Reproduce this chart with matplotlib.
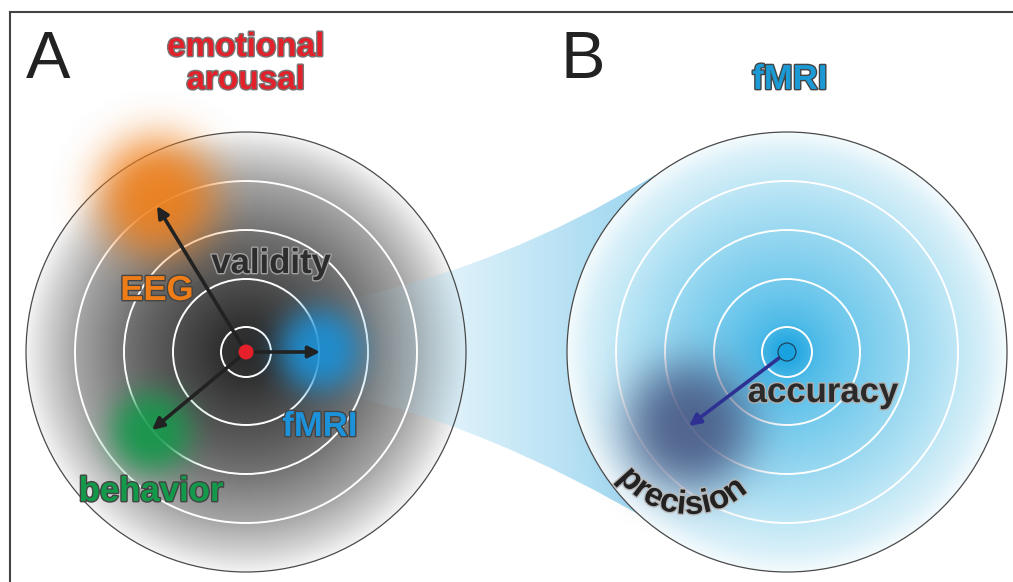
import numpy as np
import matplotlib
matplotlib.use("Agg")
import matplotlib.pyplot as plt
import matplotlib.patheffects as pe
from matplotlib.patches import Circle, PathPatch
from matplotlib.path import Path
from matplotlib.colors import to_rgb
from matplotlib.textpath import TextToPath
from matplotlib.font_manager import FontProperties

# ---- data (image pixel coordinates, y downwards) ----
panel_letters = ["A", "B"]
panel_letter_x = [26, 561]
target_centers = [(246, 352), (787, 352)]
target_radius = 220
ring_radii = [25, 73, 122, 171]

title_lines = ["emotional", "arousal"]
title_baselines = [56, 89]

method_names = ["EEG", "fMRI", "behavior"]
method_points = [(157, 206), (320, 352), (152, 430)]
method_blob_centers = [(157, 196), (320, 350), (151, 432)]
method_blob_sizes = [62, 43, 42]
method_colors = ["#ef7d17", "#1b92d9", "#12994a"]
method_label_pos = [(157, 300), (320, 436), (151, 501)]

measure_point = (689, 426)
measure_blob_size = 66
measure_color = "#44527e"

W, H = 1013, 582
FAM = ["Liberation Sans", "DejaVu Sans"]


def radial_image(cx, cy, R, knots_r, knots_hex):
    xs = np.arange(cx - R, cx + R) + 0.5
    ys = np.arange(cy - R, cy + R) + 0.5
    X, Y = np.meshgrid(xs, ys)
    r = np.hypot(X - cx, Y - cy)
    rgb = [to_rgb(c) for c in knots_hex]
    img = np.zeros(r.shape + (3,))
    for k in range(3):
        img[..., k] = np.interp(r, knots_r, [c[k] for c in rgb])
    return img, (cx - R, cx + R, cy + R, cy - R)


def blob_image(cx, cy, s, color, amax):
    R = int(s * 1.8)
    xs = np.arange(cx - R, cx + R) + 0.5
    ys = np.arange(cy - R, cy + R) + 0.5
    X, Y = np.meshgrid(xs, ys)
    d = np.hypot(X - cx, Y - cy)
    img = np.zeros(d.shape + (4,))
    img[..., :3] = to_rgb(color)
    img[..., 3] = amax * np.exp(-(d / s) ** 3)
    return img, (cx - R, cx + R, cy + R, cy - R)


fig = plt.figure(figsize=(W / 100, H / 100), dpi=100)
ax = fig.add_axes([0, 0, 1, 1])
ax.set_xlim(0, W)
ax.set_ylim(H, 0)
ax.axis("off")

# frame lines
ax.plot([10, 10], [H, 12], color="#444444", lw=1.5, zorder=0)
ax.plot([10, W], [12, 12], color="#444444", lw=1.5, zorder=0)

# panel A target (grey)
(lx, ly), (rx, ry) = target_centers
img, ext = radial_image(lx, ly, target_radius,
                        [0, 30, 60, 100, 122, 171, 200, 220],
                        ["#2a2a2a", "#333333", "#474747", "#626262",
                         "#747474", "#a6a6a6", "#d2d2d2", "#f4f4f4"])
im = ax.imshow(img, extent=ext, origin="upper", interpolation="bilinear", zorder=1)
im.set_clip_path(Circle((lx, ly), target_radius, transform=ax.transData))

# zoom cone
verts = [(328, 303), (500, 270), (655, 175), (800, 300), (800, 400),
         (662, 528), (480, 420), (328, 392), (328, 303)]
codes = [Path.MOVETO, Path.CURVE3, Path.CURVE3, Path.LINETO, Path.LINETO,
         Path.LINETO, Path.CURVE3, Path.CURVE3, Path.CLOSEPOLY]
cone = PathPatch(Path(verts, codes), transform=ax.transData, fc="none", ec="none")
cx0, cx1, cy0, cy1 = 300, 800, 150, 540
xs = np.arange(cx0, cx1) + 0.5
cimg = np.zeros((cy1 - cy0, cx1 - cx0, 4))
cimg[..., :3] = to_rgb("#9ad5ef")
cimg[..., 3] = np.clip((xs - 340) / 310, 0, 1)[None, :] ** 1.1
im = ax.imshow(cimg, extent=(cx0, cx1, cy1, cy0), origin="upper",
               interpolation="bilinear", zorder=2)
im.set_clip_path(cone)

# panel B target (blue)
img, ext = radial_image(rx, ry, target_radius,
                        [0, 12, 30, 60, 100, 150, 200, 220],
                        ["#1aa3df", "#2aaae2", "#4fbbe8", "#6cc7ec",
                         "#89d2ef", "#afe1f4", "#d9f0f9", "#f4fbfd"])
im = ax.imshow(img, extent=ext, origin="upper", interpolation="bilinear", zorder=3)
im.set_clip_path(Circle((rx, ry), target_radius, transform=ax.transData))

# rings and outlines
for (cx, cy) in target_centers:
    for r in ring_radii:
        ax.add_patch(Circle((cx, cy), r, fc="none", ec="white", lw=1.4, zorder=4))
    ax.add_patch(Circle((cx, cy), target_radius, fc="none", ec="#4a4a4a", lw=0.9, zorder=4))

# blobs
for (px, py), s, col in zip(method_blob_centers, method_blob_sizes, method_colors):
    img, ext = blob_image(px, py, s, col, 0.9)
    ax.imshow(img, extent=ext, origin="upper", interpolation="bilinear", zorder=5)
img, ext = blob_image(measure_point[0], measure_point[1], measure_blob_size, measure_color, 0.85)
ax.imshow(img, extent=ext, origin="upper", interpolation="bilinear", zorder=5)

# arrows
for p in method_points:
    ax.annotate("", xy=p, xytext=(lx, ly), zorder=6,
                arrowprops=dict(arrowstyle="-|>", color="#222222", lw=2.6,
                                mutation_scale=17, shrinkA=0, shrinkB=0))
ax.annotate("", xy=measure_point, xytext=(rx, ry), zorder=6,
            arrowprops=dict(arrowstyle="-|>", color="#2e3192", lw=2.6,
                            mutation_scale=17, shrinkA=0, shrinkB=0))

ax.add_patch(Circle((lx, ly), 7.5, fc="#e5202b", ec="none", zorder=7))
ax.add_patch(Circle((rx, ry), 9, fc="#19a2df", ec="#1f3b57", lw=0.8, zorder=7))

# texts
for s, x in zip(panel_letters, panel_letter_x):
    ax.text(x, 78, s, fontsize=48, family=FAM, color="#222222",
            ha="left", va="baseline", zorder=8)


def label(x, y, s, color, stroke, size=25):
    ax.text(x, y, s, fontsize=size, family=FAM, weight="bold", color=color,
            ha="center", va="baseline", zorder=8,
            path_effects=[pe.withStroke(linewidth=2.0, foreground=stroke)])


for s, yb in zip(title_lines, title_baselines):
    label(246, yb, s, "#e3212a", "#777777", 24)
label(790, 89, "fMRI", "#1c9ad6", "#444444")
label(271, 273, "validity", "#2d2d2d", "#a0a0a0")
for s, (x, y), col in zip(method_names, method_label_pos, method_colors):
    label(x, y, s, col, "#444444")
label(823, 402, "accuracy", "#2a2a2a", "#b0b0b0")

# curved "precision" around the measurement blob
word = "precision"
fp = FontProperties(family="Liberation Sans", weight="bold", size=24)
ttp = TextToPath()
adv = [0.0] + [ttp.get_text_width_height_descent(word[:i], fp, ismath=False)[0] * 100 / 72
               for i in range(1, len(word) + 1)]
total = adv[-1]
Rb, phic = 88, np.radians(96)
for i, ch in enumerate(word):
    s = (adv[i] + adv[i + 1]) / 2 - total / 2
    phi = phic - s / Rb
    x = measure_point[0] + Rb * np.cos(phi)
    y = measure_point[1] + Rb * np.sin(phi)
    ax.text(x, y, ch, fontproperties=fp, color="#222222", rotation=90 - np.degrees(phi),
            rotation_mode="anchor", ha="center", va="baseline", zorder=8,
            path_effects=[pe.withStroke(linewidth=2.0, foreground="#b8b8b8")])

fig.savefig("out.png", dpi=100)
